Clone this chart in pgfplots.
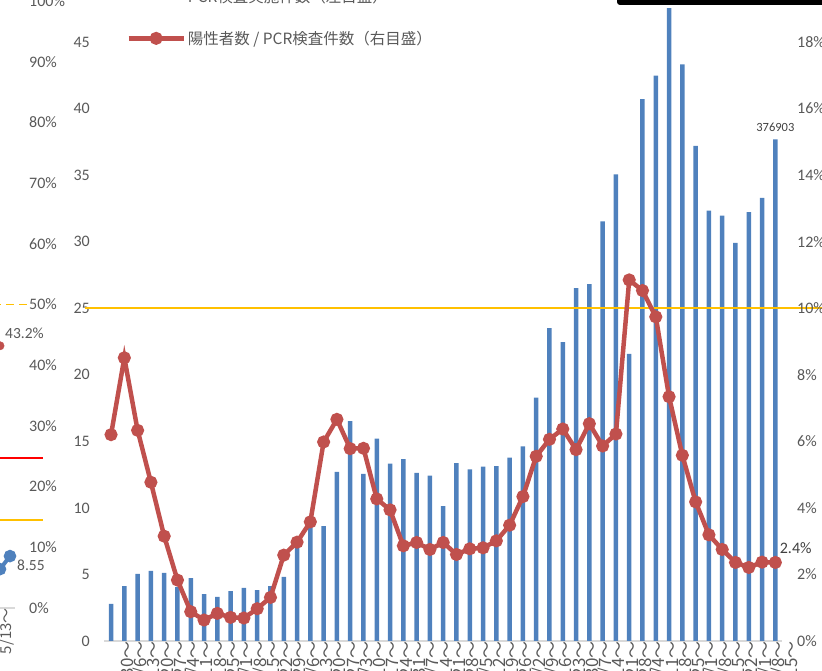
\documentclass[border=0pt]{standalone}
\usepackage{fontspec}
\setmainfont{Carlito}
\newfontfamily\jp{Noto Sans CJK JP}
\usepackage{pgfplots}
\pgfplotsset{compat=1.18}
\usepackage{pgfplotstable}

\definecolor{barblue}{HTML}{4F81BD}
\definecolor{linered}{HTML}{C0504D}
\definecolor{ygold}{HTML}{FFC000}
\definecolor{txtgray}{HTML}{595959}
\definecolor{axgray}{HTML}{D9D9D9}

% weekly PCR tests (10k) and positive rate (%)
\pgfplotstableread{
idx tests rate
0 2.78 6.20
1 4.13 8.51
2 5.05 6.33
3 5.27 4.77
4 5.11 3.15
5 4.05 1.83
6 4.72 0.88
7 3.53 0.63
8 3.31 0.83
9 3.74 0.71
10 3.99 0.69
11 3.83 0.97
12 4.13 1.31
13 4.81 2.58
14 6.98 2.97
15 8.62 3.58
16 8.62 5.98
17 12.70 6.66
18 16.52 5.78
19 12.55 5.79
20 15.20 4.27
21 13.33 3.94
22 13.66 2.86
23 12.63 2.96
24 12.43 2.75
25 10.13 2.96
26 13.36 2.60
27 12.90 2.77
28 13.10 2.80
29 13.13 3.01
30 13.78 3.48
31 14.62 4.34
32 18.28 5.55
33 23.50 6.06
34 22.46 6.37
35 26.50 5.75
36 26.80 6.53
37 31.52 5.86
38 35.06 6.22
39 21.57 10.85
40 40.70 10.53
41 42.47 9.74
42 47.54 7.34
43 43.32 5.58
44 37.19 4.18
45 32.32 3.19
46 31.96 2.75
47 29.90 2.36
48 32.22 2.21
49 33.28 2.37
50 37.69 2.36
}\weekly

\begin{document}
\begin{tikzpicture}
\useasboundingbox (0pt,0pt) rectangle (822pt,671pt);
\clip (0pt,0pt) rectangle (822pt,671pt);

% fragment of the neighbouring chart (left edge)
\begin{axis}[
  at={(-195pt,63pt)}, anchor=south west,
  scale only axis, width=210pt, height=607pt,
  xmin=-20.5, xmax=0.5, ymin=0, ymax=100,
  axis y line*=right, axis x line*=bottom,
  y axis line style={draw=none},
  x axis line style={axgray, line width=1.3pt},
  major tick length=0pt,
  ytick={0,10,...,100},
  yticklabels={0\%,10\%,20\%,30\%,40\%,50\%,60\%,70\%,80\%,90\%,100\%},
  yticklabel style={inner sep=0pt, xshift=14pt, font=\fontsize{16}{19}\selectfont, text=txtgray},
  xtick={-0.95}, xticklabels={5/13〜},
  xticklabel style={rotate=90, anchor=east, inner sep=0pt, yshift=-6pt, font=\jp\fontsize{15}{18}\selectfont, text=txtgray},
  clip=false,
]
\addplot[ygold, line width=1.7pt, dash pattern=on 8pt off 5pt] coordinates {(-3,50) (2.2,50)};
\addplot[red, line width=2pt] coordinates {(-3,24.7) (3.3,24.7)};
\addplot[ygold, line width=1.7pt] coordinates {(-3,14.5) (3.3,14.5)};
\addplot[barblue, line width=4pt, mark=*, mark size=4.2pt] coordinates {(-1,6.4) (0,8.55)};
\addplot[linered, only marks, mark=*, mark size=4.2pt] coordinates {(-1,43.2)};
\node[anchor=west, inner sep=0pt, xshift=5pt, yshift=12.7pt, font=\fontsize{15.5}{18}\selectfont, text=txtgray] at (axis cs:-1,43.2) {43.2\%};
\node[anchor=west, inner sep=0pt, xshift=7pt, yshift=-9pt, font=\fontsize{15.5}{18}\selectfont, text=txtgray] at (axis cs:0,8.55) {8.55};
\end{axis}

% main chart: bars on the left axis
\begin{axis}[
  at={(104.4pt,30pt)}, anchor=south west,
  scale only axis, width=677.6pt, height=665.6pt,
  xmin=-0.5, xmax=50.5, ymin=0, ymax=50,
  axis x line*=bottom, axis y line*=left,
  y axis line style={draw=none},
  x axis line style={axgray, line width=1.3pt},
  major tick length=0pt,
  ytick={0,5,...,50},
  /pgf/number format/assume math mode=true,
  yticklabel style={inner sep=0pt, xshift=-14.4pt, font=\fontsize{16}{19}\selectfont, text=txtgray},
  xtick={0,...,50},
  xticklabels={3/30〜,4/6〜,4/13〜,4/20〜,4/27〜,5/4〜,5/11〜,5/18〜,5/25〜,6/1〜,6/8〜,6/15〜,6/22〜,6/29〜,7/6〜,7/13〜,7/20〜,7/27〜,8/3〜,8/10〜,8/17〜,8/24〜,8/31〜,9/7〜,9/14〜,9/21〜,9/28〜,10/5〜,10/12〜,10/19〜,10/26〜,11/2〜,11/9〜,11/16〜,11/23〜,11/30〜,12/7〜,12/14〜,12/21〜,12/28〜,1/4〜,1/11〜,1/18〜,1/25〜,2/1〜,2/8〜,2/15〜,2/22〜,3/1〜,3/8〜,3/15〜},
  xticklabel style={rotate=90, anchor=east, inner sep=0pt, yshift=-17pt, font=\jp\fontsize{17}{20}\selectfont, text=txtgray},
  clip=false,
]
\addplot[ybar, bar width=4.5pt, fill=barblue, draw=none] table[x=idx, y=tests] {\weekly};
\addplot[ygold, line width=1.7pt] coordinates {(-1.96,25) (53.5,25)};
\node[anchor=south, inner sep=0pt, yshift=7pt, font=\fontsize{12.5}{15}\selectfont, text=black!75] at (axis cs:50,37.69) {376903};
\end{axis}

% main chart: positive rate on the right axis
\begin{axis}[
  at={(104.4pt,30pt)}, anchor=south west,
  scale only axis, width=677.6pt, height=665.6pt,
  xmin=-0.5, xmax=50.5, ymin=0, ymax=20,
  axis y line*=right, axis x line=none,
  y axis line style={draw=none},
  major tick length=0pt,
  ytick={0,2,...,20},
  yticklabels={0\%,2\%,4\%,6\%,8\%,10\%,12\%,14\%,16\%,18\%,20\%},
  yticklabel style={inner sep=0pt, xshift=15pt, font=\fontsize{16}{19}\selectfont, text=txtgray},
  clip=false,
  legend cell align=left,
  legend style={draw=none, fill=none, inner sep=0pt, nodes={inner sep=0pt, text=txtgray},
    font=\jp\fontsize{15.5}{18}\selectfont, column sep=2pt, row sep=27pt,
    at={(axis description cs:0.0322,0.894)}, anchor=south west},
]
\addlegendimage{legend image code/.code={\fill[barblue] (44pt,1pt) rectangle (53pt,10pt);}}
\addlegendentry{PCR検査実施件数（左目盛）}
\addplot[linered, line width=4.5pt, mark=*, mark size=4.2pt,
  legend image code/.code={\draw[mark repeat=2, mark phase=2] plot coordinates {(0pt,0pt) (27.5pt,0pt) (55pt,0pt)};}]
  table[x=idx, y=rate] {\weekly};
\addlegendentry{陽性者数 / PCR検査件数（右目盛）}
\node[anchor=west, inner sep=0pt, xshift=4.3pt, yshift=14.5pt, font=\fontsize{16}{19}\selectfont, text=black!75] at (axis cs:50,2.36) {2.4\%};
\end{axis}

\fill[black, rounded corners=3pt] (617pt,666pt) rectangle (840pt,700pt);
\end{tikzpicture}
\end{document}
